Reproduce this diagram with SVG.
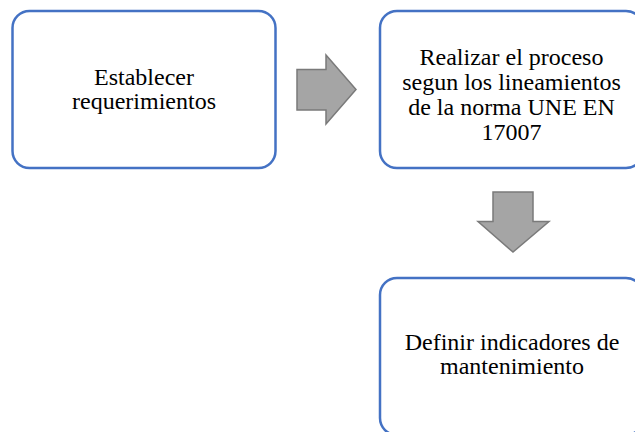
<svg xmlns="http://www.w3.org/2000/svg" width="635" height="432" viewBox="0 0 635 432">
  <style>
    .box { fill: #ffffff; stroke: #4472c4; stroke-width: 2.5; }
    .label { font-family: "Liberation Serif", "Times New Roman", serif; font-size: 24px; fill: #000000; text-anchor: middle; }
    .arrow { fill: #a5a5a5; stroke: #7a7a7a; stroke-width: 1.5; stroke-linejoin: miter; }
  </style>
  <rect width="635" height="432" fill="#ffffff"/>

  <g id="node-requerimientos">
    <rect class="box" x="12.5" y="11" width="263" height="157" rx="17"/>
    <text class="label" x="144" y="85">Establecer</text>
    <text class="label" x="144" y="109">requerimientos</text>
  </g>

  <g id="node-proceso">
    <rect class="box" x="380" y="11" width="263" height="157" rx="17"/>
    <text class="label" x="511.5" y="65">Realizar el proceso</text>
    <text class="label" x="511.5" y="90">segun los lineamientos</text>
    <text class="label" x="511.5" y="115">de la norma UNE EN</text>
    <text class="label" x="511.5" y="140">17007</text>
  </g>

  <g id="node-indicadores">
    <rect class="box" x="380" y="278" width="263" height="157" rx="17"/>
    <text class="label" x="512" y="350">Definir indicadores de</text>
    <text class="label" x="512" y="374">mantenimiento</text>
  </g>

  <g id="connectors">
    <!-- block arrow: requerimientos -> proceso -->
    <polygon class="arrow" points="297,69.5 326,69.5 326,55 356,89.5 326,124 326,110 297,110"/>
    <!-- block arrow: proceso -> indicadores -->
    <polygon class="arrow" points="493,192 533,192 533,221.5 549,221.5 513,252 478,221.5 493,221.5"/>
  </g>
</svg>
